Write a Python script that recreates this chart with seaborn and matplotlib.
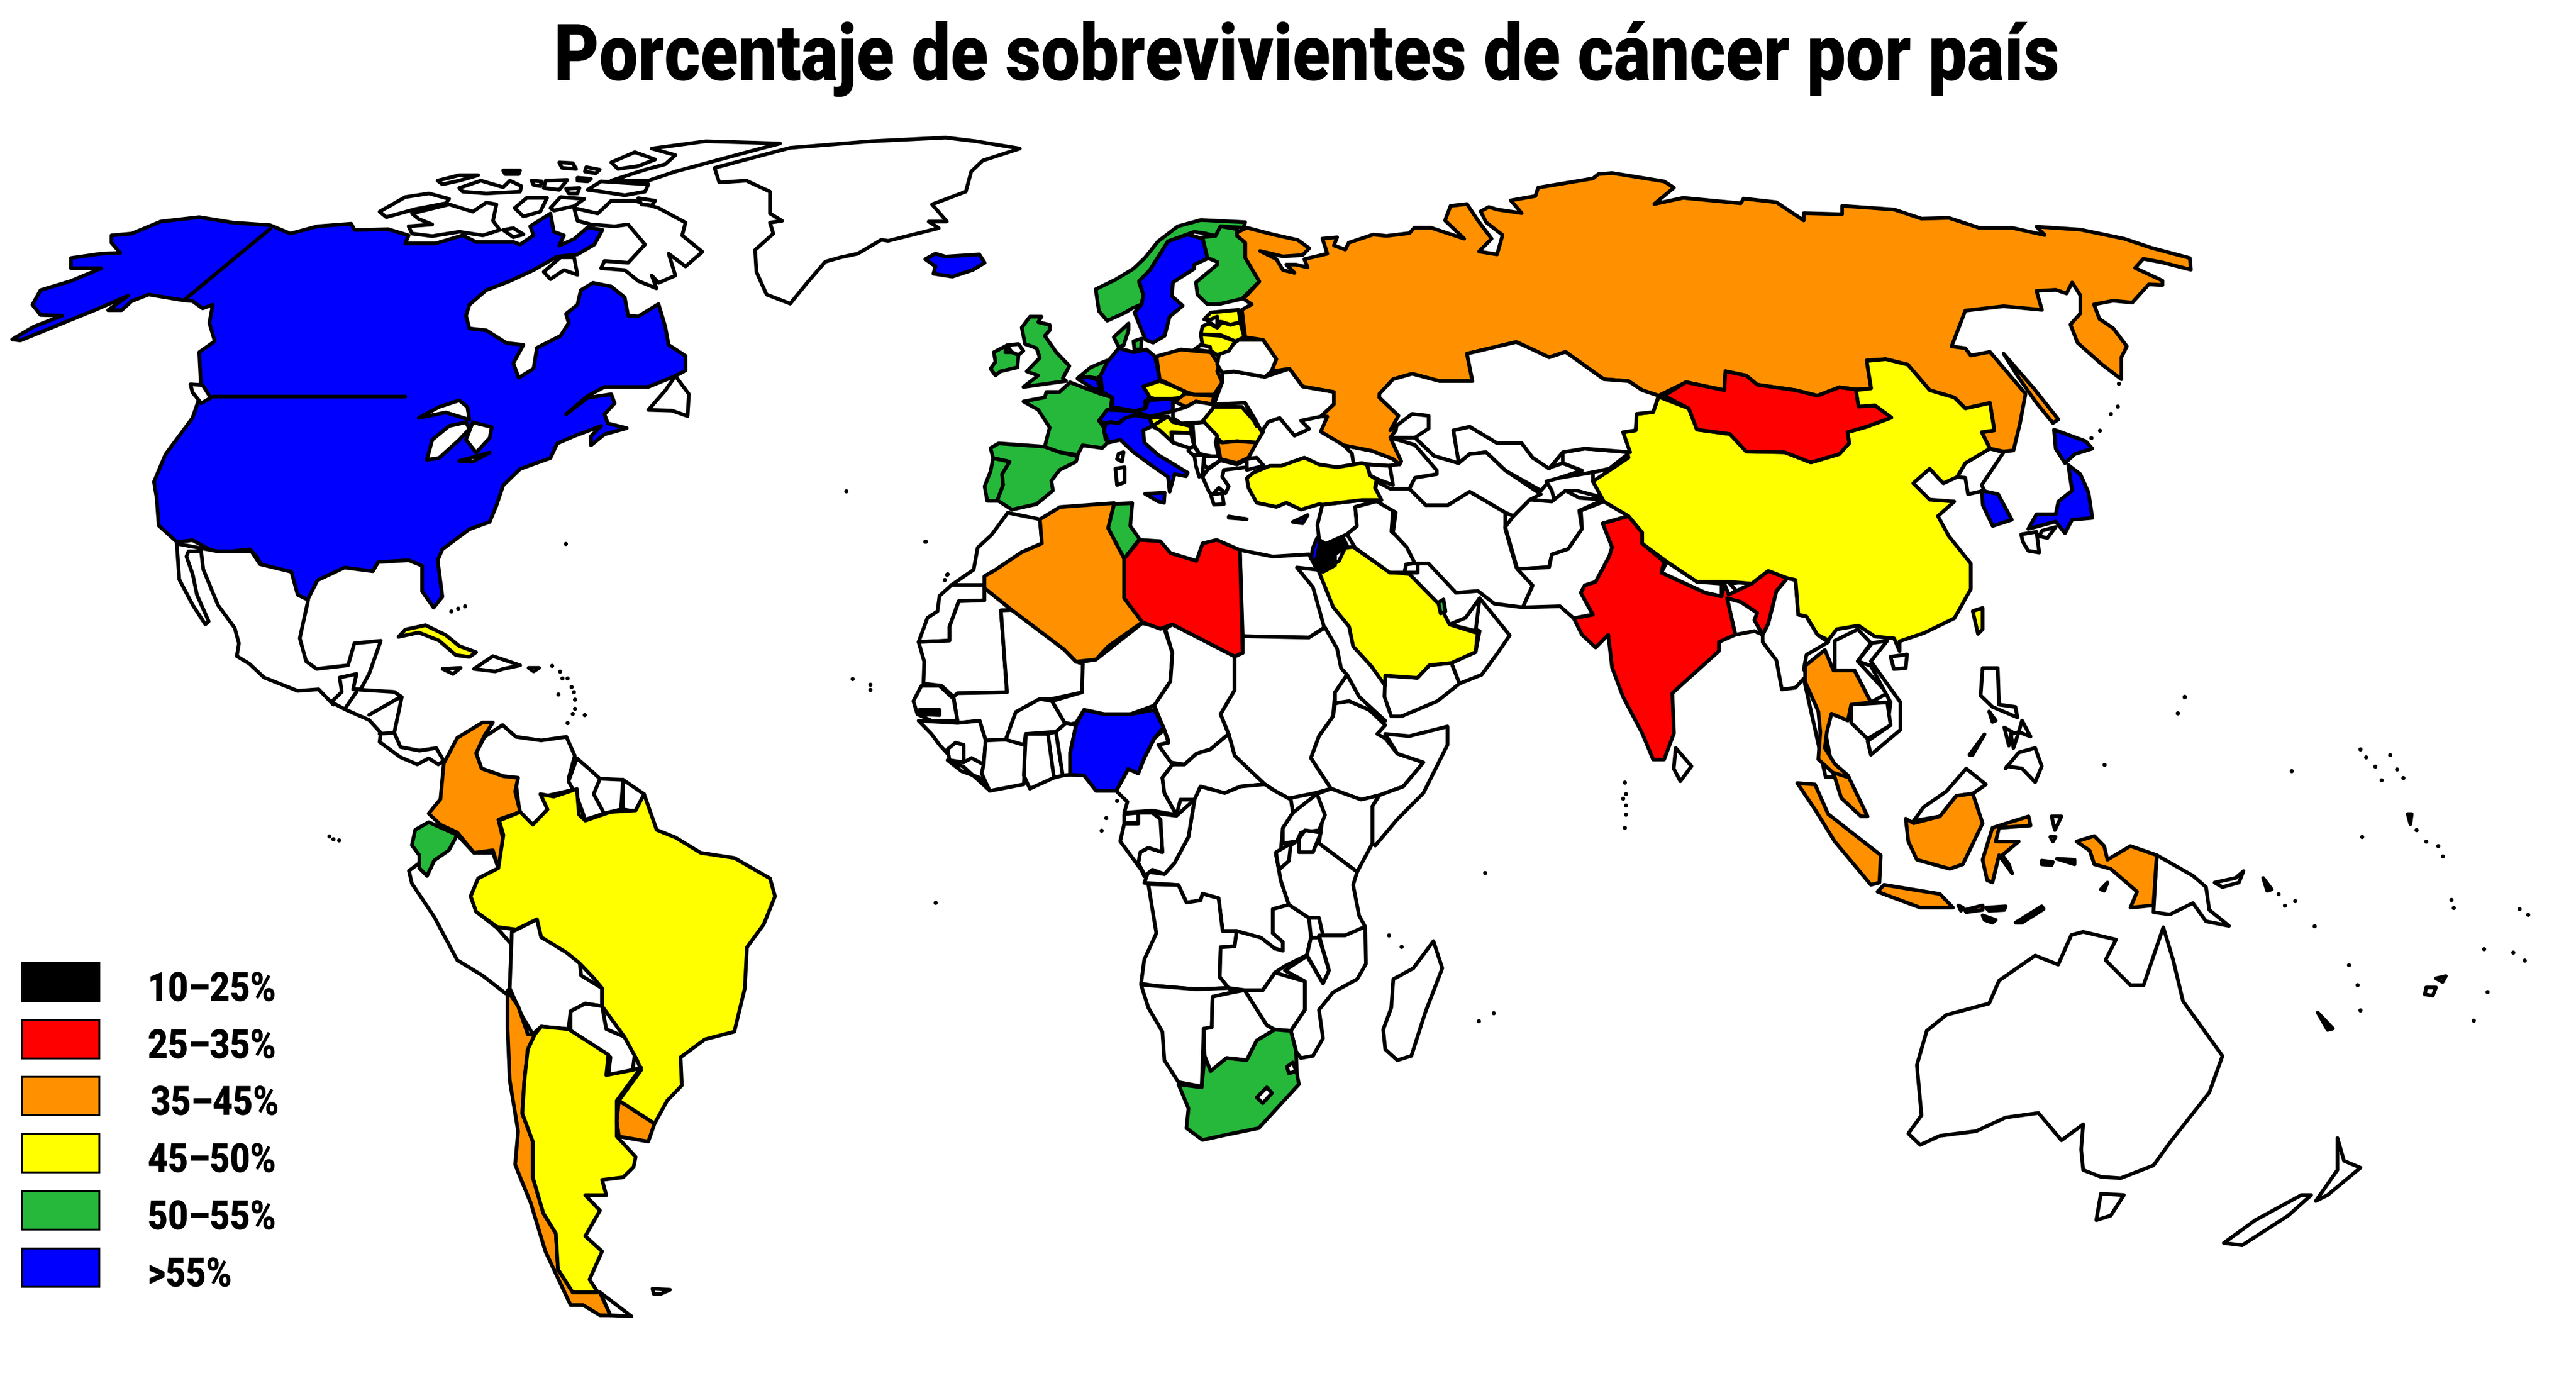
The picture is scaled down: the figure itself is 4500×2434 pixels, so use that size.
"""Porcentaje de sobrevivientes de cancer por pais: world choropleth, outlines traced by hand."""

import matplotlib
matplotlib.use("Agg")
import matplotlib.pyplot as plt
from matplotlib.patches import Rectangle
from matplotlib.patheffects import AbstractPathEffect
from matplotlib.transforms import Affine2D
import pandas as pd
import seaborn as sns

WIDTH, HEIGHT = 4500, 2434
TRACE = 1568.0

TITLE = "Porcentaje de sobrevivientes de cáncer por país"
BIN_LABELS = ["10–25%", "25–35%", "35–45%", "45–50%", "50–55%", ">55%"]
BIN_COLORS = ["#000000", "#ff0000", "#ff9100", "#ffff00", "#26b83b", "#0000ff"]
NO_DATA = -1

# tracing windows: outlines are read in a 1568 square laid over each part of the map
NA = (0, 220, 1850, 1000)
LA = (300, 950, 1150, 1400)
EU = (1650, 350, 900, 750)
AF = (1550, 850, 1100, 1200)
AS = (2400, 280, 1500, 1000)
OC = (2700, 1000, 1800, 1250)

# North America
NORTH_AMERICA = [(165,300),(195,295),(238,262),(295,250),(345,265),(400,272),(430,295),(470,275),(520,268),(525,285),(575,283),(605,300),(600,322),(645,322),(685,300),(705,318),(760,318),(770,325),(790,300),(785,275),(815,240),(820,290),(835,300),(828,328),(850,310),(870,278),(892,285),(880,325),(855,352),(825,358),(790,395),(755,425),(720,450),(695,490),(690,520),(695,555),(720,560),(750,595),(775,600),(760,650),(768,690),(790,665),(795,608),(830,575),(842,540),(838,515),(855,490),(860,450),(878,430),(905,440),(925,470),(930,520),(945,522),(975,488),(985,550),(990,600),(1015,630),(1015,670),(1000,685),(960,715),(895,715),(870,740),(838,790),(870,745),(905,735),(910,760),(895,790),(900,815),(928,828),(895,845),(875,875),(875,850),(890,822),(850,850),(825,870),(815,910),(770,940),(745,985),(735,1040),(725,1085),(695,1105),(655,1160),(648,1190),(655,1290),(642,1320),(625,1275),(625,1205),(605,1190),(560,1195),(552,1220),(510,1210),(470,1245),(455,1300),(438,1285),(430,1220),(408,1218),(395,1228),(380,1180),(370,1160),(320,1170),(285,1135),(262,1140),(235,1095),(232,1020),(228,975),(245,900),(285,800),(298,730),(295,620),(318,590),(310,540),(315,490),(300,500),(285,480),(272,478),(220,462),(195,480),(180,505),(160,505),(190,465),(140,505),(100,535),(30,588),(18,585),(50,550),(92,520),(60,518),(48,490),(60,450),(105,425),(150,390),(105,390),(105,362),(150,350),(178,348),(165,320)]
ALASKA_BORDER = [(400,282),(272,478)]
US_CANADA_BORDER = [(315,742),(600,742)]
LAKE_SUPERIOR = [(620,800),(650,770),(680,752),(692,770),(695,805),(660,785)]
LAKE_MICHIGAN = [(632,915),(640,860),(665,822),(690,812),(695,830),(680,860),(650,910)]
LAKE_HURON = [(700,812),(728,825),(725,855),(705,895),(690,860)]
LAKE_ERIE = [(680,918),(725,895),(700,920)]
VANCOUVER = [(282,708),(300,710),(312,745),(298,760),(285,730)]
BAFFIN = [(885,240),(905,205),(940,205),(975,225),(1015,265),(1010,300),(1040,345),(1015,385),(990,350),(1000,410),(975,430),(965,410),(972,445),(945,425),(925,395),(890,390),(895,370),(930,375),(955,325),(930,270),(910,275),(875,270),(855,260),(850,225)]
NEWFOUNDLAND = [(1000,685),(1020,735),(1018,795),(995,780),(960,778),(985,725)]
BANKS = [(562,235),(600,195),(635,185),(665,200),(660,212),(615,228),(572,250)]
VICTORIA = [(610,240),(665,215),(700,235),(720,210),(735,215),(730,260),(740,285),(715,300),(680,290),(640,302),(610,295),(605,275),(640,270),(620,255)]
KING_WILLIAM = [(745,285),(760,280),(775,297),(760,305)]
SOUTHAMPTON = [(805,400),(830,360),(850,360),(855,408),(835,395),(815,420)]
ELLESMERE = [(965,62),(1045,42),(1155,48),(1110,70),(1050,100),(1000,125),(960,150),(905,150),(955,120),(985,105),(1000,80)]
DEVON = [(905,100),(940,72),(970,92),(945,110),(915,118)]
ARCTIC_ISLES = [
    [(828,100),(848,102),(853,118),(832,115)],
    [(868,113),(888,120),(882,130),(866,125)],
    [(648,150),(680,135),(708,135),(680,150),(655,160)],
    [(745,122),(770,122),(768,132),(748,132)],
    [(680,170),(712,150),(745,168),(755,150),(772,165),(770,180),(720,185),(685,180)],
    [(787,150),(802,152),(800,165),(790,162)],
    [(808,150),(840,148),(828,175),(805,170)],
    [(855,142),(875,145),(870,152),(855,150)],
    [(838,172),(858,170),(855,185),(842,185)],
    [(870,175),(890,152),(960,160),(955,180),(925,190),(890,180)],
    [(762,225),(780,197),(810,197),(800,235),(775,248)],
    [(815,225),(830,195),(865,200),(850,220),(820,232)],
    [(945,198),(970,205),(965,218),(950,215)],
]
GREENLAND = [(1058,115),(1170,60),(1290,42),(1400,32),(1445,42),(1510,62),(1455,95),(1438,125),(1430,180),(1380,215),(1402,262),(1375,262),(1390,280),(1315,315),(1305,312),(1270,350),(1245,360),(1222,372),(1195,430),(1170,487),(1135,462),(1120,400),(1118,340),(1145,295),(1140,265),(1158,260),(1140,240),(1140,180),(1105,150),(1065,155)]
ICELAND = [(1370,365),(1385,350),(1400,358),(1450,352),(1458,375),(1440,395),(1410,413),(1382,405),(1385,385)]
CUBA = [(590,1400),(600,1380),(630,1368),(660,1395),(680,1425),(705,1442),(695,1455),(675,1450),(650,1410),(620,1388)]

# Latin America
MEXICO = [(12,0),(18,70),(50,120),(80,158),(88,152),(60,100),(50,60),(35,25),(40,15),(70,15),(75,50),(110,120),(150,165),(160,195),(155,220),(185,235),(220,262),(300,288),(350,285),(385,315),(410,290),(400,265),(440,255),(430,285),(450,285),(470,255),(498,190),(435,195),(420,238),(345,245),(320,230),(305,185),(325,110),(300,100),(285,55),(210,40),(190,15),(110,15)]
CENTRAL_AMERICA = [(380,310),(405,290),(400,262),(440,255),(432,285),(530,290),(548,300),(530,370),(545,398),(590,405),(630,400),(648,425),(635,432),(612,420),(585,432),(545,418),(495,388),(498,370),(470,345),(415,325)]
CA_BORDERS = [[(415,320),(440,290)],[(470,335),(545,300)],[(495,372),(530,370)]]
COLOMBIA = [(612,528),(640,500),(648,430),(680,380),(740,350),(765,350),(745,375),(725,410),(738,440),(790,455),(825,458),(818,485),(830,525),(778,540),(790,580),(778,635),(765,600),(720,605),(680,565),(640,550)]
VENEZUELA = [(745,378),(788,355),(820,378),(880,385),(940,378),(960,415),(945,460),(960,478),(965,480),(885,495),(895,520),(860,550),(830,535),(820,470),(790,455),(738,440),(725,410)]
GUYANA = [(965,420),(1000,445),(1020,460),(1010,490),(1030,528),(985,540),(965,495),(945,465)]
SURINAME = [(1020,460),(1075,462),(1070,520),(1030,528),(1005,490)]
FR_GUIANA = [(1075,462),(1125,490),(1110,525),(1075,520)]
BRAZIL = [(878,490),(910,495),(965,480),(970,530),(985,542),(1045,525),(1105,522),(1125,490),(1155,560),(1200,575),(1260,605),(1340,615),(1425,655),(1437,690),(1410,745),(1370,790),(1365,870),(1340,955),(1270,970),(1212,1005),(1215,1060),(1180,1090),(1150,1135),(1065,1090),(1118,1030),(1108,1010),(1078,965),(1025,905),(1025,870),(1005,850),(970,820),(940,800),(880,770),(870,735),(820,755),(775,750),(750,735),(725,720),(712,690),(730,655),(778,635),(790,570),(780,542),(830,525),(860,550),(895,520)]
ECUADOR = [(580,560),(612,545),(680,570),(660,600),(625,620),(608,650),(590,635),(590,610),(572,590)]
PERU = [(565,640),(590,625),(608,650),(625,620),(680,570),(720,605),(765,605),(778,635),(730,655),(712,690),(725,720),(775,752),(810,785),(805,870),(795,880),(740,845),(680,815),(625,730),(572,665)]
BOLIVIA = [(810,760),(870,735),(880,770),(970,805),(975,845),(1025,870),(1025,905),(985,900),(950,915),(945,950),(880,945),(860,960),(835,925),(805,870)]
PARAGUAY = [(950,915),(985,900),(1025,905),(1035,950),(1078,965),(1105,985),(1098,1030),(1040,1040),(1045,1005),(950,955)]
CHILE = [(800,875),(825,905),(848,960),(865,960),(848,990),(840,1050),(835,1115),(860,1170),(860,1240),(885,1310),(915,1350),(920,1420),(955,1465),(1020,1465),(1045,1510),(1020,1510),(980,1490),(950,1490),(890,1385),(855,1290),(830,1240),(818,1215),(825,1150),(805,1050),(800,950)]
ARGENTINA = [(865,960),(880,945),(945,950),(1040,1000),(1035,1040),(1098,1030),(1118,1025),(1060,1090),(1060,1160),(1105,1200),(1100,1220),(1075,1240),(1025,1245),(1035,1275),(985,1275),(1020,1305),(985,1355),(1025,1385),(995,1440),(1015,1465),(955,1465),(920,1420),(915,1350),(885,1310),(860,1240),(860,1170),(835,1115),(840,1050),(848,990)]
URUGUAY = [(1065,1090),(1150,1135),(1135,1170),(1065,1160),(1060,1130)]
FUEGO = [(1020,1465),(1095,1512),(1045,1510)]
FALKLANDS = [(1145,1458),(1187,1460),(1165,1468),(1148,1468)]
HISPANIOLA = [(720,245),(765,220),(830,238),(790,245),(770,250)]
JAMAICA = [(645,245),(688,243),(670,255)]
PUERTO_RICO = [(850,243),(875,243),(862,250)]

# Africa
MOROCCO = [(300,60),(380,75),(385,130),(335,150),(270,190),(242,205),(242,225),(160,225),(215,190),(225,140),(260,110)]
W_SAHARA = [(160,225),(242,225),(242,260),(178,262),(155,320),(155,352),(78,355),(100,300),(125,285),(130,250)]
MAURITANIA = [(78,355),(155,352),(155,320),(178,262),(242,260),(242,232),(310,282),(283,283),(298,470),(175,472),(165,480),(135,455),(90,450),(92,400)]
ALGERIA = [(380,75),(430,47),(565,38),(550,95),(590,160),(590,255),(635,310),(550,365),(520,395),(470,400),(440,372),(310,282),(242,232),(242,205),(270,190),(335,150),(385,130)]
TUNISIA = [(565,40),(610,38),(605,90),(628,120),(590,165),(550,95)]
LIBYA = [(628,122),(680,125),(705,152),(770,170),(785,130),(820,122),(878,145),(885,380),(865,388),(710,315),(680,325),(635,310),(590,255),(590,165)]
EGYPT = [(878,145),(960,160),(1050,155),(1070,190),(1020,185),(1060,230),(1088,322),(1050,345),(885,342)]
MALI = [(283,283),(310,282),(440,372),(470,400),(487,405),(485,470),(410,485),(380,485),(320,515),(295,578),(245,580),(230,535),(175,540),(165,480),(175,472),(298,470)]
NIGER = [(487,400),(520,395),(635,312),(690,325),(710,380),(705,445),(665,500),(605,520),(540,520),(490,510),(470,540),(445,545),(410,490),(485,470)]
CHAD = [(692,325),(710,315),(865,388),(865,465),(830,520),(850,565),(805,600),(770,610),(740,635),(705,630),(675,590),(700,580),(665,500),(705,445),(710,380)]
SUDAN = [(885,342),(1050,345),(1090,322),(1120,370),(1130,415),(1145,430),(1115,470),(1110,525),(1075,570),(1055,620),(1105,690),(1065,700),(1000,712),(965,695),(940,680),(865,615),(850,565),(830,520),(865,465),(865,388),(885,380)]
ETHIOPIA = [(1110,525),(1115,495),(1150,490),(1200,510),(1240,545),(1220,565),(1240,575),(1270,610),(1335,630),(1285,685),(1225,705),(1180,715),(1105,690),(1055,620),(1075,570)]
ERITREA = [(1115,470),(1145,430),(1175,480),(1240,535),(1200,510),(1150,490),(1115,495)]
SOMALIA = [(1240,565),(1300,570),(1395,548),(1395,590),(1335,700),(1270,760),(1215,820),(1208,815),(1208,730),(1225,705),(1285,685),(1335,630),(1270,610)]
KENYA = [(1070,702),(1105,690),(1180,715),(1225,705),(1208,730),(1208,815),(1170,880),(1075,815),(1085,750)]
SENEGAL = [(65,490),(85,455),(130,455),(165,485),(175,535),(110,535),(75,520)]
GAMBIA = [(80,510),(130,510),(130,522),(80,520)]
GUINEA = [(78,535),(175,540),(230,535),(245,580),(240,635),(210,620),(190,630),(150,610),(130,590),(110,565)]
SIERRA_LEONE = [(150,600),(170,585),(190,590),(190,630),(155,625)]
LIBERIA = [(150,625),(190,640),(250,690),(230,665),(185,650)]
IVORY_COAST = [(245,580),(295,578),(345,590),(340,680),(255,695),(235,655),(240,635)]
BURKINA = [(295,578),(320,515),(380,485),(410,490),(445,545),(420,560),(345,565),(340,590)]
GHANA = [(345,565),(400,565),(415,600),(415,665),(355,690),(340,660)]
TOGO = [(400,565),(420,560),(437,660),(415,665)]
BENIN = [(420,560),(445,540),(470,545),(455,610),(455,658),(437,660)]
NIGERIA = [(470,545),(490,510),(540,520),(605,520),(665,510),(688,550),(665,575),(640,620),(625,655),(600,645),(570,695),(520,695),(490,660),(455,658),(455,610)]
CAMEROON = [(570,695),(600,645),(625,655),(640,620),(665,575),(690,555),(700,585),(675,590),(710,635),(685,665),(690,700),(720,750),(660,740),(590,745),(598,720)]
CAR = [(710,635),(740,635),(770,610),(805,600),(850,565),(865,615),(940,680),(880,685),(840,700),(780,685),(765,715),(730,715),(720,750),(690,700),(685,665)]
DR_CONGO = [(765,715),(780,685),(840,700),(880,685),(940,680),(965,695),(1005,715),(1010,745),(985,780),(980,830),(968,840),(980,900),(1000,955),(960,965),(960,1020),(985,1040),(985,1060),(965,1055),(930,1030),(880,1020),(870,1015),(835,1015),(825,940),(785,930),(780,945),(745,950),(725,910),(640,905),(650,880),(690,885),(715,860),(750,800)]
CONGO = [(720,752),(765,715),(750,800),(715,860),(690,885),(660,875),(640,890),(625,860),(630,835),(650,825),(685,835),(680,760),(660,745)]
GABON = [(590,770),(625,770),(625,745),(660,745),(680,760),(685,835),(650,825),(630,835),(625,860),(640,885),(580,810)]
EQ_GUINEA = [(590,748),(625,745),(625,768),(590,768)]
ANGOLA = [(650,908),(725,910),(745,950),(780,945),(785,930),(825,940),(835,1015),(870,1015),(865,1050),(830,1052),(828,1120),(850,1145),(770,1148),(665,1140),(632,1135),(640,1080),(670,1020),(660,965)]
NAMIBIA = [(632,1138),(665,1140),(770,1148),(850,1145),(860,1155),(810,1165),(808,1235),(788,1238),(783,1370),(725,1360),(690,1310),(685,1245),(650,1190)]
BOTSWANA = [(810,1165),(860,1155),(890,1150),(945,1230),(965,1240),(920,1265),(895,1310),(845,1305),(805,1335),(790,1300),(788,1238),(808,1235)]
SOUTH_AFRICA = [(725,1365),(783,1372),(790,1300),(805,1335),(845,1305),(895,1310),(920,1265),(965,1240),(1005,1243),(1018,1290),(1020,1340),(1025,1365),(985,1405),(925,1465),(845,1480),(785,1492),(745,1465),(750,1420)]
LESOTHO = [(920,1395),(945,1372),(958,1385),(935,1408)]
SWAZILAND = [(995,1325),(1010,1315),(1018,1335),(1000,1340)]
ZIMBABWE = [(890,1150),(935,1150),(965,1110),(1040,1130),(1040,1195),(1005,1243),(965,1240),(945,1230)]
ZAMBIA = [(870,1015),(930,1030),(965,1055),(985,1060),(985,1040),(960,1020),(960,965),(1000,955),(1050,985),(1055,1030),(1045,1070),(990,1095),(965,1110),(935,1150),(890,1150),(850,1145),(828,1120),(830,1052),(865,1050)]
TANZANIA = [(1000,955),(980,900),(968,840),(1020,810),(1075,815),(1170,880),(1160,910),(1175,980),(1190,1005),(1185,1015),(1140,1025),(1085,1025),(1075,985),(1050,985)]
UGANDA = [(1010,745),(1070,702),(1090,750),(1075,785),(1030,790),(1020,810),(985,815),(985,780)]
LAKE_VICTORIA = [(1025,805),(1040,785),(1080,790),(1060,835),(1025,835)]
RWANDA = [(968,835),(1005,815),(1000,855),(975,875)]
MALAWI = [(1055,1030),(1075,1030),(1100,1105),(1085,1135),(1045,1070)]
MOZAMBIQUE = [(1075,1025),(1140,1025),(1190,1005),(1192,1090),(1170,1125),(1110,1155),(1075,1195),(1085,1260),(1060,1300),(1030,1305),(1018,1290),(1005,1243),(1040,1195),(1040,1130),(990,1105),(1045,1072),(1085,1135),(1100,1105)]
MADAGASCAR = [(1360,1038),(1382,1100),(1340,1200),(1305,1300),(1270,1310),(1240,1285),(1235,1240),(1255,1190),(1260,1125),(1310,1100)]

# Arabia
SAUDI = [(1075,195),(1125,170),(1140,140),(1160,138),(1250,195),(1300,200),(1375,270),(1400,315),(1470,335),(1465,378),(1405,403),(1350,408),(1320,437),(1240,432),(1240,455),(1205,410),(1160,365),(1150,320),(1110,275)]
JORDAN = [(1068,135),(1130,108),(1145,135),(1115,155),(1115,180),(1085,195),(1070,190),(1060,170)]
ISRAEL = [(1070,118),(1078,125),(1068,170),(1055,165),(1060,140)]
YEMEN = [(1240,432),(1320,437),(1350,408),(1405,403),(1425,450),(1370,490),(1280,525),(1255,525),(1238,480)]
OMAN = [(1405,403),(1465,378),(1475,330),(1460,325),(1475,255),(1550,340),(1520,380),(1480,430),(1425,450)]
UAE = [(1400,315),(1440,300),(1475,255),(1465,330)]
QATAR = [(1372,265),(1385,258),(1390,285),(1378,290)]

# Europe
SPAIN = [(140,905),(165,888),(305,900),(350,920),(405,935),(400,955),(350,985),(325,1025),(330,1060),(280,1110),(205,1130),(160,1095),(178,1040),(175,1000),(198,955),(148,942)]
PORTUGAL = [(148,942),(198,955),(175,1000),(178,1040),(160,1098),(130,1098),(122,1045),(140,990)]
FRANCE = [(240,735),(305,720),(310,700),(350,700),(382,665),(470,705),(510,720),(505,765),(470,805),(485,830),(490,875),(500,880),(480,905),(420,895),(405,930),(350,920),(305,900),(320,830),(285,765)]
CORSICA = [(530,925),(545,920),(540,955),(525,945)]
SARDINIA = [(520,980),(548,975),(548,1030),(525,1040)]
UK = [(260,425),(295,425),(285,445),(320,455),(320,475),(305,495),(340,555),(380,605),(360,650),(370,660),(240,682),(285,640),(250,625),(270,600),(290,575),(280,540),(245,525),(235,465)]
IRELAND = [(150,555),(190,530),(185,555),(205,555),(225,565),(222,610),(170,625),(155,640),(140,615),(155,590)]
N_IRELAND = [(190,530),(225,525),(240,550),(225,565),(205,555)]
NORWAY = [(460,325),(520,290),(575,250),(610,210),(650,150),(710,95),(780,72),(915,80),(910,100),(840,95),(825,130),(790,120),(760,115),(680,150),(625,255),(592,300),(605,345),(600,380),(570,395),(550,410),(495,440),(470,405)]
SWEDEN = [(592,295),(625,255),(680,150),(740,125),(785,140),(805,210),(760,235),(760,250),(695,300),(692,350),(725,385),(685,425),(670,495),(635,520),(612,510),(578,410),(600,380),(605,345)]
FINLAND = [(800,210),(830,225),(830,235),(765,300),(770,345),(800,380),(840,378),(905,360),(958,297),(915,210),(915,155),(890,130),(890,105),(840,95),(825,130),(785,135)]
DENMARK = [(515,500),(560,450),(560,475),(545,530),(530,535)]
ZEALAND = [(575,515),(600,505),(598,545),(578,545)]
NETHERLANDS = [(405,650),(445,610),(495,585),(490,610),(475,640),(465,650),(435,645)]
BELGIUM = [(405,652),(435,645),(465,655),(475,690),(455,690)]
LUXEMBOURG = [(460,690),(475,690),(478,700),(462,700)]
GERMANY = [(530,540),(575,555),(615,545),(640,570),(655,650),(655,660),(605,680),(625,720),(610,735),(610,760),(580,770),(510,755),(510,720),(480,700),(475,640),(495,590),(510,570)]
SWITZERLAND = [(470,805),(495,765),(575,770),(580,790),(550,795),(530,815),(505,810),(490,815)]
AUSTRIA = [(580,770),(612,760),(620,730),(695,725),(695,770),(625,790),(590,775)]
ITALY = [(490,815),(505,810),(530,815),(550,795),(580,785),(625,795),(632,825),(605,840),(608,885),(650,930),(740,995),(735,1008),(700,1000),(685,1065),(680,1010),(620,960),(575,920),(535,875),(500,885),(485,845)]
SICILY = [(610,1072),(670,1068),(668,1105),(650,1100)]
SLOVENIA = [(625,795),(680,790),(670,815),(632,825)]
CROATIA = [(680,790),(695,810),(750,825),(750,850),(690,848),(695,885),(655,840),(632,825)]
CZECHIA = [(605,680),(655,660),(730,695),(725,720),(690,725),(640,725),(625,720)]
SLOVAKIA = [(735,705),(760,710),(820,715),(815,745),(765,735),(735,755),(700,735)]
POLAND = [(645,570),(720,545),(760,550),(810,555),(835,600),(830,625),(845,665),(820,710),(760,710),(735,700),(655,655)]
HUNGARY = [(695,770),(735,755),(765,735),(815,745),(820,755),(790,810),(720,815),(695,795)]
ROMANIA = [(820,755),(905,755),(945,810),(970,845),(950,885),(890,880),(845,885),(780,815)]
MOLDOVA = [(915,740),(945,738),(975,790),(950,825)]
BULGARIA = [(830,880),(845,885),(890,880),(950,885),(925,940),(890,960),(840,945)]
UKRAINE = [(845,630),(880,625),(975,645),(1050,615),(1090,680),(1185,700),(1185,745),(1145,790),(1085,805),(1110,835),(1065,860),(1020,795),(985,810),(965,845),(945,800),(915,740),(820,745),(845,665)]
BELARUS = [(835,565),(895,510),(970,510),(1010,580),(995,625),(975,645),(880,625),(845,630),(830,600)]
ESTONIA = [(790,435),(810,410),(895,400),(900,445),(870,455),(845,445)]
LATVIA = [(780,490),(785,460),(805,450),(830,465),(845,445),(870,455),(900,445),(912,500),(885,515),(840,492)]
GULF_OF_RIGA = [(800,440),(830,425),(830,465)]
LITHUANIA = [(780,490),(840,495),(885,515),(865,550),(830,565),(785,530)]
KALININGRAD = [(760,545),(780,528),(808,535),(810,553)]
BOSNIA = [(690,848),(750,850),(760,900),(745,905),(695,885)]
SERBIA = [(755,815),(790,810),(830,860),(825,885),(835,940),(790,930),(775,925),(760,895)]
MONTENEGRO = [(745,905),(760,900),(775,925),(765,940),(742,915)]
ALBANIA = [(760,930),(790,930),(785,1000),(775,1010),(765,970)]
MACEDONIA = [(790,935),(835,935),(840,950),(800,980),(790,965)]
GREECE = [(785,1010),(800,985),(840,950),(890,965),(925,945),(920,975),(850,985),(845,1010),(865,1045),(855,1070),(835,1050),(815,1075),(805,1065)]
PELOPONNESE = [(810,1075),(845,1070),(850,1110),(820,1112)]
THRACE = [(920,945),(950,940),(972,970),(920,985)]
TURKEY = [(920,1015),(940,995),(990,970),(1025,970),(1095,940),(1140,965),(1195,975),(1270,960),(1285,965),(1295,1005),(1315,1020),(1310,1050),(1330,1095),(1270,1095),(1150,1112),(1140,1110),(1085,1130),(1040,1105),(1010,1120),(950,1105),(925,1050)]
GEORGIA = [(1215,895),(1300,915),(1365,945),(1380,965),(1350,970),(1290,965),(1270,960),(1245,965),(1240,925)]
CAUCASUS = [(1285,965),(1355,970),(1365,1040),(1320,1020),(1295,1005)]
SYRIA = [(1150,1112),(1270,1095),(1330,1095),(1250,1120),(1255,1190),(1225,1220),(1160,1255),(1140,1240),(1135,1185)]
IRAQ = [(1330,1095),(1365,1130),(1360,1210),(1420,1270),(1440,1325),(1405,1330),(1400,1360),(1355,1360),(1250,1270),(1225,1220),(1255,1190),(1250,1120)]
KUWAIT = [(1405,1330),(1440,1325),(1440,1360),(1400,1360)]
CYPRUS = [(1060,1175),(1105,1150),(1090,1180)]
CRETE = [(865,1155),(920,1165),(865,1160)]

# Russia runs over two tracing windows
RUSSIA_WEST = [(890,118),(920,100),(1000,125),(1075,145),(1110,175),(1090,200),(1030,205),(960,185),(1010,215),(1030,255),(1065,265),(1040,235),(1070,235),(1105,245),(1095,215),(1165,195),(1150,140),(1195,135),(1185,165),(1220,180),(1230,155),(1305,125),(1345,130),(1415,120),(1430,100),(1480,100)]
RUSSIA_EAST = [(165,215),(130,165),(140,125),(170,120),(190,165),(215,215),(192,250),(225,258),(235,205),(205,170),(195,140),(210,128),(225,135),(270,145),(250,110),(295,98),(300,75),(400,50),(410,38),(435,35),(530,58),(548,75),(512,120),(565,103),(670,118),(675,105),(735,115),(785,165),(785,145),(855,148),(855,125),(950,135),(1000,160),(1050,158),(1105,185),(1165,185),(1225,205),(1210,182),(1290,190),(1370,215),(1420,240),(1490,268),(1492,300),(1440,280),(1405,270),(1390,295),(1440,330),(1440,342),(1415,340),(1385,390),(1350,385),(1315,395),(1325,435),(1350,460),(1375,510),(1365,540),(1365,600),(1330,560),(1285,500),(1272,450),(1290,420),(1290,370),(1275,335),(1265,365),(1245,355),(1210,358),(1220,410),(1150,400),(1080,412),(1055,510),(1080,515),(1090,535),(1125,525),(1190,640),(1180,720),(1168,795),(1150,798),(1125,790),(1110,745),(1133,740),(1125,665),(1080,680),(1060,650),(1015,630),(975,560),(935,545),(900,548),(908,625),(880,628),(850,622),(810,645),(770,630),(700,615),(680,590),(642,578),(640,630),(570,608),(520,645),(490,630),(465,605),(420,600),(350,525),(320,540),(285,515),(260,498),(170,530),(180,605),(120,605),(70,585),(35,600),(10,650),(45,700),(40,740),(30,760),(50,825)]
RUSSIA_CAUCASUS = [(1385,965),(1365,945),(1300,915),(1215,895),(1145,845),(1165,790),(1145,790),(1185,745),(1185,700),(1090,680),(1050,615),(995,625),(1010,580),(970,510),(915,500),(905,400),(935,380),(910,360),(958,297),(915,210),(915,155),(890,130)]

# Asia
SAKHALIN = [(1150,530),(1205,625),(1250,710),(1240,720),(1210,665),(1175,590)]
KAZAKHSTAN = [(10,640),(35,600),(70,585),(120,605),(180,605),(170,530),(260,498),(285,515),(320,540),(350,525),(420,600),(465,605),(490,630),(520,645),(510,690),(480,695),(478,740),(455,745),(468,800),(385,790),(345,800),(320,845),(290,815),(270,775),(225,775),(175,730),(145,740),(155,830),(110,810),(75,760),(100,735),(100,700),(70,695),(30,740),(45,700),(10,650)]
UZBEKISTAN = [(155,830),(145,740),(175,730),(225,775),(270,775),(290,815),(325,840),(345,830),(380,850),(340,870),(320,880),(305,905),(240,850),(205,800),(175,805)]
TURKMENISTAN = [(30,760),(75,760),(110,810),(155,830),(175,805),(205,800),(240,850),(305,915),(285,930),(255,975),(240,965),(175,908),(135,945),(95,945),(65,900),(75,870),(115,860),(115,850),(75,780)]
KYRGYZSTAN = [(345,800),(385,790),(468,800),(430,845),(400,855),(340,870),(380,850),(345,830)]
TAJIKISTAN = [(315,880),(340,870),(400,855),(400,880),(420,925),(370,905),(350,905),(330,935),(325,905)]
IRAN = [(5,880),(30,900),(65,900),(95,945),(135,945),(175,908),(240,965),(240,1010),(260,1115),(290,1165),(272,1225),(220,1215),(190,1180),(150,1185),(100,1105),(75,1105),(60,1060),(35,1020),(40,965),(0,930)]
AFGHANISTAN = [(240,1005),(255,975),(285,930),(325,935),(350,905),(375,925),(420,930),(375,960),(380,1010),(355,1065),(325,1080),(320,1115),(262,1120)]
PAKISTAN = [(262,1120),(320,1115),(325,1080),(355,1065),(380,1010),(378,960),(420,935),(465,975),(418,995),(435,1060),(430,1085),(405,1155),(385,1165),(378,1185),(400,1245),(365,1255),(340,1222),(272,1225),(290,1165)]
CHINA = [(520,648),(575,680),(590,738),(650,750),(680,798),(750,800),(798,828),(850,805),(868,775),(865,745),(900,730),(945,705),(915,672),(885,675),(880,630),(908,625),(900,550),(935,545),(975,560),(1015,630),(1060,650),(1080,680),(1125,665),(1133,740),(1110,745),(1125,790),(1080,830),(1065,868),(1040,885),(1030,870),(1015,845),(985,885),(1015,930),(1060,935),(1030,975),(1050,1030),(1090,1105),(1090,1175),(1060,1255),(1005,1295),(960,1318),(960,1345),(950,1310),(915,1305),(885,1275),(845,1285),(830,1315),(810,1300),(790,1250),(775,1245),(770,1150),(755,1145),(720,1125),(690,1160),(650,1155),(590,1155),(535,1100),(490,1050),(490,1020),(465,975),(420,935),(400,880),(465,815),(455,745),(478,740),(480,695),(510,690)]
MONGOLIA = [(530,645),(570,608),(640,630),(642,578),(680,590),(700,615),(770,630),(810,645),(850,622),(880,628),(885,675),(915,672),(945,705),(900,730),(865,745),(868,775),(850,805),(798,828),(750,800),(680,798),(650,750),(590,738),(575,680)]
INDIA = [(418,995),(465,975),(490,1020),(490,1050),(530,1100),(525,1130),(605,1185),(635,1195),(640,1160),(648,1190),(690,1160),(720,1125),(755,1145),(735,1180),(720,1270),(710,1300),(695,1260),(700,1240),(670,1210),(645,1200),(660,1300),(630,1320),(630,1345),(545,1460),(548,1570),(530,1642),(510,1642),(490,1570),(455,1470),(435,1390),(428,1300),(405,1335),(380,1300),(365,1255),(400,1245),(378,1185),(385,1165),(405,1155),(430,1085),(435,1060)]
NEPAL = [(525,1130),(535,1100),(590,1155),(635,1160),(635,1195),(605,1185)]
BHUTAN = [(650,1160),(680,1155),(690,1165),(665,1185)]
BANGLADESH = [(645,1200),(670,1210),(700,1240),(695,1260),(710,1300),(695,1290),(660,1300)]
MYANMAR = [(720,1270),(735,1180),(755,1145),(770,1150),(775,1245),(790,1250),(810,1300),(830,1320),(790,1355),(785,1395),(810,1450),(840,1690),(825,1690),(785,1420),(770,1445),(745,1450),(735,1370),(710,1320),(710,1300)]
N_KOREA = [(1125,790),(1150,800),(1110,890),(1115,905),(1085,915),(1080,870),(1065,868),(1080,830)]
S_KOREA = [(1110,905),(1140,915),(1165,985),(1130,1002),(1112,945)]
HOKKAIDO = [(1242,738),(1300,770),(1312,790),(1280,805),(1262,830),(1245,790)]
HONSHU = [(1268,835),(1290,860),(1305,910),(1312,980),(1275,985),(1262,1022),(1245,990),(1195,1010),(1210,970),(1245,970),(1250,935),(1275,905)]
KYUSHU = [(1182,1025),(1210,1018),(1215,1075),(1195,1070),(1185,1045)]
SHIKOKU = [(1220,1015),(1245,1005),(1230,1035),(1215,1030)]

# South East Asia and Oceania
THAILAND_MALAYA = [(395,205),(425,170),(438,215),(470,215),(495,285),(465,290),(460,325),(435,310),(428,350),(425,385),(440,420),(460,445),(490,535),(480,535),(450,495),(438,440),(415,410),(418,350),(415,305),(395,240)]
THAI_MALAY_BORDER = [(440,440),(462,450)]
LAOS = [(440,150),(475,125),(495,155),(475,195),(520,265),(495,285),(470,215),(440,215)]
VIETNAM = [(475,195),(497,155),(520,150),(495,195),(540,285),(540,345),(495,400),(490,370),(520,340),(525,285),(495,205)]
CAMBODIA = [(465,290),(520,285),(525,335),(490,365),(465,330)]
HAINAN = [(525,185),(550,180),(548,210),(530,212)]
SRI_LANKA = [(198,385),(222,425),(205,458),(195,430)]
TAIWAN = [(650,85),(665,78),(665,125),(658,135)]
SUMATRA = [(383,462),(410,465),(430,530),(510,620),(508,680),(495,685),(440,590),(410,520)]
JAVA = [(505,700),(515,685),(600,705),(620,735),(570,735)]
SUNDA_ISLES = [
    [(628,730),(635,735),(632,742)],
    [(638,740),(665,730),(665,740),(640,745)],
    [(670,735),(700,732),(698,740),(675,742)],
    [(665,752),(685,762),(680,768),(668,762)],
    [(715,768),(755,732),(758,738),(725,768)],
    [(755,632),(772,635),(770,642),(755,640)],
    [(778,628),(805,630),(805,640)],
]
BORNEO_INDO = [(548,540),(560,550),(600,535),(625,490),(650,485),(665,550),(635,640),(615,650),(565,630),(552,590)]
BORNEO_NORTH = [(560,545),(575,515),(610,480),(640,430),(670,465),(650,485),(625,490),(600,535)]
SULAWESI = [(665,630),(680,560),(735,535),(738,555),(690,560),(685,590),(720,590),(695,620),(705,640),(710,660),(690,620),(680,680),(672,675)]
LUZON = [(665,210),(688,210),(690,290),(715,295),(718,318),(680,295),(662,270)]
MINDANAO = [(700,430),(720,395),(745,385),(755,425),(745,460),(725,430),(702,425)]
VISAYAS = [
    [(675,305),(685,325),(680,328)],
    [(698,340),(710,350),(705,380)],
    [(725,325),(738,360),(720,350)],
    [(708,355),(720,350),(712,385)],
    [(645,400),(668,355),(650,400)],
    [(770,535),(785,535),(775,565)],
    [(768,580),(776,580),(772,590)],
    [(1018,680),(1050,670),(1062,655),(1055,680),(1030,690)],
    [(1340,910),(1355,910),(1350,928),(1338,925)],
    [(1355,890),(1370,885),(1365,898)],
]
PAPUA_INDO = [(808,590),(835,578),(850,600),(855,630),(890,600),(930,620),(925,730),(890,735),(900,700),(860,650),(835,640),(828,610)]
PNG = [(930,620),(985,665),(1005,690),(1010,740),(1040,775),(1005,765),(985,725),(950,750),(925,745)]
AUSTRALIA = [(800,795),(818,788),(868,805),(852,850),(890,905),(910,905),(940,778),(955,850),(970,940),(1000,1000),(1030,1060),(1010,1140),(950,1250),(925,1300),(875,1328),(845,1325),(818,1310),(815,1265),(818,1210),(785,1245),(750,1185),(700,1195),(655,1225),(600,1235),(570,1255),(552,1230),(572,1190),(565,1080),(580,1005),(610,970),(675,945),(690,895),(745,840),(780,860)]
TASMANIA = [(845,1362),(880,1365),(860,1410),(838,1420)]
NZ_NORTH = [(1205,1240),(1215,1290),(1240,1305),(1190,1365),(1172,1378),(1205,1310)]
NZ_SOUTH = [(1165,1365),(1130,1410),(1060,1475),(1032,1470),(1080,1420),(1150,1365)]
BLACK_ISLES = [
    [(1175,965),(1198,1000),(1190,1003)],
    [(1092,670),(1105,695),(1098,698)],
    [(845,695),(855,680),(850,698)],
    [(1312,530),(1318,530),(1316,552)],
]

# tiny islands, too small to outline
ISLETS_NA = [(1253,1000),(837,1145),(1370,1138),(1402,1230),(1262,1515),(1288,1530),(1288,1545)]
ISLETS_LA = [(905,238),(925,250),(930,263),(942,263),(952,280),(957,290),(960,305),(960,322),(955,333),(983,335),(942,350),(375,572),(385,578),(398,580),(920,295),(665,132),(682,127),(698,122)]
ISLETS_AF = [(95,125),(150,200),(143,213),(120,950),(545,757),(533,785),(1488,882),(1248,1025),(1280,1050),(1510,1202),(1472,1220),(572,718)]
ISLETS_AS = [(1360,612),(1358,675),(1345,695),(1325,740),(1310,760),(1480,1470),(1468,1515)]
ISLETS_OC = [(120,460),(122,485),(118,495),(122,510),(122,530),(120,560),(972,272),(962,308),(850,422),(1135,435),(1240,388),(1248,405),(1262,425),(1285,400),(1295,432),(1305,450),(1272,455),(1242,580),(1325,565),(1340,590),(1358,600),(1365,622),(1378,718),(1382,735),(1482,738),(1495,750),(1428,826),(1472,833),(1490,850),(1433,920),(1412,982),(1222,860),(1235,905),(1240,960),(1115,705),(1140,720),(1125,730),(1170,775)]

SHAPES = [
    (GREENLAND, NA, NO_DATA), (NORTH_AMERICA, NA, 5), (LAKE_SUPERIOR, NA, NO_DATA), (LAKE_MICHIGAN, NA, NO_DATA),
    (LAKE_HURON, NA, NO_DATA), (LAKE_ERIE, NA, NO_DATA), (VANCOUVER, NA, NO_DATA), (BAFFIN, NA, NO_DATA),
    (NEWFOUNDLAND, NA, NO_DATA), (BANKS, NA, NO_DATA), (VICTORIA, NA, NO_DATA), (KING_WILLIAM, NA, NO_DATA),
    (SOUTHAMPTON, NA, NO_DATA), (ELLESMERE, NA, NO_DATA), (DEVON, NA, NO_DATA), (ICELAND, NA, 5), (CUBA, NA, 3),
    (MEXICO, LA, NO_DATA), (CENTRAL_AMERICA, LA, NO_DATA), (VENEZUELA, LA, NO_DATA), (GUYANA, LA, NO_DATA),
    (SURINAME, LA, NO_DATA), (FR_GUIANA, LA, NO_DATA), (PERU, LA, NO_DATA), (BOLIVIA, LA, NO_DATA), (PARAGUAY, LA, NO_DATA),
    (COLOMBIA, LA, 2), (ECUADOR, LA, 4), (BRAZIL, LA, 3), (CHILE, LA, 2), (ARGENTINA, LA, 3), (URUGUAY, LA, 2),
    (FUEGO, LA, NO_DATA), (FALKLANDS, LA, NO_DATA), (HISPANIOLA, LA, NO_DATA), (JAMAICA, LA, NO_DATA), (PUERTO_RICO, LA, 4),
    (MOROCCO, AF, NO_DATA), (W_SAHARA, AF, NO_DATA), (MAURITANIA, AF, NO_DATA), (MALI, AF, NO_DATA), (NIGER, AF, NO_DATA),
    (CHAD, AF, NO_DATA), (EGYPT, AF, NO_DATA), (SUDAN, AF, NO_DATA), (ETHIOPIA, AF, NO_DATA), (ERITREA, AF, NO_DATA),
    (SOMALIA, AF, NO_DATA), (KENYA, AF, NO_DATA), (SENEGAL, AF, NO_DATA), (GUINEA, AF, NO_DATA), (SIERRA_LEONE, AF, NO_DATA),
    (LIBERIA, AF, NO_DATA), (IVORY_COAST, AF, NO_DATA), (BURKINA, AF, NO_DATA), (GHANA, AF, NO_DATA), (TOGO, AF, NO_DATA),
    (BENIN, AF, NO_DATA), (CAMEROON, AF, NO_DATA), (CAR, AF, NO_DATA), (DR_CONGO, AF, NO_DATA), (CONGO, AF, NO_DATA),
    (GABON, AF, NO_DATA), (EQ_GUINEA, AF, NO_DATA), (ANGOLA, AF, NO_DATA), (NAMIBIA, AF, NO_DATA), (BOTSWANA, AF, NO_DATA),
    (ZIMBABWE, AF, NO_DATA), (ZAMBIA, AF, NO_DATA), (TANZANIA, AF, NO_DATA), (UGANDA, AF, NO_DATA), (LAKE_VICTORIA, AF, NO_DATA),
    (RWANDA, AF, NO_DATA), (MALAWI, AF, NO_DATA), (MOZAMBIQUE, AF, NO_DATA), (MADAGASCAR, AF, NO_DATA),
    (ALGERIA, AF, 2), (TUNISIA, AF, 4), (LIBYA, AF, 1), (GAMBIA, AF, 0), (NIGERIA, AF, 5), (SOUTH_AFRICA, AF, 4),
    (LESOTHO, AF, NO_DATA), (SWAZILAND, AF, NO_DATA), (YEMEN, AF, NO_DATA), (OMAN, AF, NO_DATA), (UAE, AF, NO_DATA),
    (SAUDI, AF, 3), (JORDAN, AF, 0), (ISRAEL, AF, 5), (QATAR, AF, 4),
    (SYRIA, EU, NO_DATA), (IRAQ, EU, NO_DATA), (KUWAIT, EU, NO_DATA), (GEORGIA, EU, NO_DATA), (CAUCASUS, EU, NO_DATA),
    (IRAN, AS, NO_DATA), (UZBEKISTAN, AS, NO_DATA), (TURKMENISTAN, AS, NO_DATA),
    (KYRGYZSTAN, AS, NO_DATA), (TAJIKISTAN, AS, NO_DATA), (AFGHANISTAN, AS, NO_DATA), (PAKISTAN, AS, NO_DATA),
    (NEPAL, AS, NO_DATA), (BHUTAN, AS, NO_DATA), (BANGLADESH, AS, NO_DATA), (MYANMAR, AS, NO_DATA), (N_KOREA, AS, NO_DATA),
    (KYUSHU, AS, NO_DATA), (SHIKOKU, AS, NO_DATA),
    (INDIA, AS, 1), (S_KOREA, AS, 5), (HOKKAIDO, AS, 5), (HONSHU, AS, 5),
    (SPAIN, EU, 4), (PORTUGAL, EU, 4), (FRANCE, EU, 4), (CORSICA, EU, NO_DATA), (SARDINIA, EU, NO_DATA), (UK, EU, 4),
    (IRELAND, EU, 4), (N_IRELAND, EU, NO_DATA), (NORWAY, EU, 4), (SWEDEN, EU, 5), (DENMARK, EU, 4),
    (ZEALAND, EU, 4), (NETHERLANDS, EU, 4), (BELGIUM, EU, 5), (LUXEMBOURG, EU, NO_DATA), (GERMANY, EU, 5), (SWITZERLAND, EU, 5),
    (AUSTRIA, EU, 5), (ITALY, EU, 5), (SICILY, EU, 5), (SLOVENIA, EU, 3), (CROATIA, EU, 3), (CZECHIA, EU, 3), (SLOVAKIA, EU, 2),
    (POLAND, EU, 2), (HUNGARY, EU, NO_DATA), (ROMANIA, EU, 3), (MOLDOVA, EU, NO_DATA), (BULGARIA, EU, 2), (UKRAINE, EU, NO_DATA),
    (BELARUS, EU, NO_DATA), (ESTONIA, EU, 3), (LATVIA, EU, 3), (GULF_OF_RIGA, EU, NO_DATA), (LITHUANIA, EU, 3), (KALININGRAD, EU, NO_DATA),
    (BOSNIA, EU, NO_DATA), (SERBIA, EU, NO_DATA), (MONTENEGRO, EU, NO_DATA), (ALBANIA, EU, NO_DATA), (MACEDONIA, EU, NO_DATA),
    (GREECE, EU, NO_DATA), (PELOPONNESE, EU, NO_DATA), (THRACE, EU, NO_DATA), (TURKEY, EU, 3), (CYPRUS, EU, 5), (CRETE, EU, 0),
    (LAOS, OC, NO_DATA), (VIETNAM, OC, NO_DATA), (CAMBODIA, OC, NO_DATA), (HAINAN, OC, NO_DATA), (SRI_LANKA, OC, NO_DATA),
    (BORNEO_NORTH, OC, NO_DATA), (LUZON, OC, NO_DATA), (MINDANAO, OC, NO_DATA), (PNG, OC, NO_DATA), (AUSTRALIA, OC, NO_DATA),
    (TASMANIA, OC, NO_DATA), (NZ_NORTH, OC, NO_DATA), (NZ_SOUTH, OC, NO_DATA),
    (THAILAND_MALAYA, OC, 2), (TAIWAN, OC, 3), (SUMATRA, OC, 2), (JAVA, OC, 2), (BORNEO_INDO, OC, 2), (SULAWESI, OC, 2), (PAPUA_INDO, OC, 2),
]
ISLE_GROUPS = [(ARCTIC_ISLES, NA, NO_DATA), (SUNDA_ISLES, OC, 2), (VISAYAS, OC, NO_DATA), (BLACK_ISLES, OC, 0)]
ISLET_GROUPS = [(ISLETS_NA, NA), (ISLETS_LA, LA), (ISLETS_AF, AF), (ISLETS_AS, AS), (ISLETS_OC, OC)]
BORDERS = [(ALASKA_BORDER, NA), (US_CANADA_BORDER, NA), (THAI_MALAY_BORDER, OC)] + [(b, LA) for b in CA_BORDERS]


class Squeeze(AbstractPathEffect):
    """Narrow a text about x0, for want of a condensed font."""

    def __init__(self, x0, factor):
        super().__init__()
        self.x0 = x0
        self.factor = factor

    def draw_path(self, renderer, gc, tpath, affine, rgbFace=None):
        squeeze = Affine2D().translate(-self.x0, 0).scale(self.factor, 1).translate(self.x0, 0)
        renderer.draw_path(gc, tpath, affine + squeeze, rgbFace)


def to_px(points, window):
    x0, y0, w, h = window
    return [(x0 + x * w / TRACE, y0 + y * h / TRACE) for x, y in points]


def draw_shape(ax, pts, facecolor):
    xs, ys = zip(*pts)
    ax.fill(xs, ys, facecolor=facecolor, edgecolor="black", linewidth=1.55, joinstyle="round")


def main():
    sns.set_theme(style="white")
    plt.rcParams["font.family"] = ["Roboto", "DejaVu Sans"]
    palette = sns.color_palette(BIN_COLORS)

    fig = plt.figure(figsize=(15, 2434 / 300), dpi=300)
    ax = fig.add_axes([0, 0, 1, 1])

    def colour(bin_idx):
        return "white" if bin_idx == NO_DATA else palette[bin_idx]

    for outline, window, bin_idx in SHAPES:
        draw_shape(ax, to_px(outline, window), colour(bin_idx))

    russia = to_px(RUSSIA_WEST, EU) + to_px(RUSSIA_EAST, AS) + to_px(RUSSIA_CAUCASUS, EU)
    draw_shape(ax, russia, palette[2])
    for outline, window, bin_idx in [(SAKHALIN, AS, 2), (CHINA, AS, 3), (MONGOLIA, AS, 1), (FINLAND, EU, 4), (KAZAKHSTAN, AS, NO_DATA)]:
        draw_shape(ax, to_px(outline, window), colour(bin_idx))

    for group, window, bin_idx in ISLE_GROUPS:
        for outline in group:
            draw_shape(ax, to_px(outline, window), colour(bin_idx))

    for line, window in BORDERS:
        xs, ys = zip(*to_px(line, window))
        ax.plot(xs, ys, color="black", linewidth=1.55, solid_capstyle="round")

    islet_px = [p for pts, window in ISLET_GROUPS for p in to_px(pts, window)]
    islets = pd.DataFrame(islet_px, columns=["x", "y"])
    sns.scatterplot(data=islets, x="x", y="y", color="black", s=3, linewidth=0, ax=ax, legend=False)

    ax.set_xlim(0, WIDTH)
    ax.set_ylim(HEIGHT, 0)
    ax.axis("off")

    # legend
    swatch_top = [1682, 1782, 1881, 1981, 2081, 2181]
    label_x = [258, 258, 263, 258, 258, 258]
    for i, label in enumerate(BIN_LABELS):
        ax.add_patch(Rectangle((38, swatch_top[i]), 135, 67, facecolor=palette[i], edgecolor="black", linewidth=0.8))
        t = ax.text(label_x[i], swatch_top[i] + 67, label, fontsize=17, fontweight="black", color="black",
                    ha="left", va="baseline")
        t.set_path_effects([Squeeze(label_x[i], 0.86)])

    t = ax.text(2283, 140, TITLE, fontsize=33, fontweight="black", color="black", ha="center", va="baseline")
    t.set_path_effects([Squeeze(2283, 0.88)])

    fig.savefig("out.png", dpi=300, facecolor="white")
    plt.close(fig)


if __name__ == "__main__":
    main()
